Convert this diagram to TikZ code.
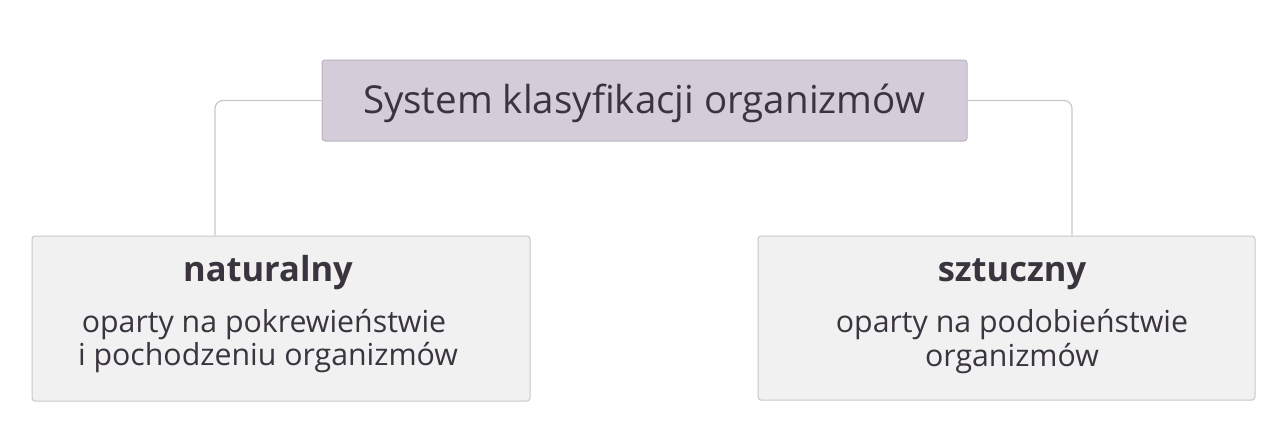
\documentclass[tikz,border=0pt]{standalone}
\usepackage{fontspec}
\setmainfont{Open Sans}
\definecolor{topfill}{RGB}{212,205,217}
\definecolor{topdraw}{RGB}{186,180,192}
\definecolor{boxfill}{RGB}{241,241,241}
\definecolor{boxdraw}{RGB}{200,200,200}
\definecolor{linec}{RGB}{200,200,200}
\definecolor{txt}{RGB}{58,52,62}
\begin{document}
\begin{tikzpicture}[x=1pt,y=-1pt,
  topbox/.style={draw=topdraw,fill=topfill,line width=1pt,rounded corners=3pt,inner sep=0pt},
  subbox/.style={draw=boxdraw,fill=boxfill,line width=1pt,rounded corners=3pt,inner sep=0pt},
  conn/.style={draw=linec,line width=1.2pt,rounded corners=8pt},
  headtxt/.style={anchor=base,inner sep=0pt,text=txt,font=\fontsize{34.5}{40}\selectfont\bfseries},
  bodytxt/.style={anchor=base,inner sep=0pt,text=txt,font=\fontsize{30.3}{35}\selectfont},
  titletxt/.style={anchor=base,inner sep=0pt,text=txt,font=\fontsize{38.5}{44}\selectfont}]
\useasboundingbox[fill=white] (0,0) rectangle (1280,447);
\node[topbox,minimum width=645pt,minimum height=81pt] (top) at (644.5,100.5) {};
\node[subbox,minimum width=498pt,minimum height=165pt] (nat) at (281,318.5) {};
\node[subbox,minimum width=497pt,minimum height=164pt] (szt) at (1006.5,318) {};
\coordinate (lc) at (215,100.5);
\coordinate (rc) at (1072,100.5);
\draw[conn] (top.west) -- (lc) -- (lc |- nat.north);
\draw[conn] (top.east) -- (rc) -- (rc |- szt.north);
\node[titletxt] (ttl) at (644,113) {System klasyfikacji organizmów};
\node[headtxt] (h1) at (268,281) {naturalny};
\node[bodytxt] (b1a) at (264,332) {oparty na pokrewieństwie};
\node[bodytxt] (b1b) at (268,365) {i pochodzeniu organizmów};
\node[headtxt] (h2) at (1012,281) {sztuczny};
\node[bodytxt] (b2a) at (1012,332) {oparty na podobieństwie};
\node[bodytxt] (b2b) at (1012,366) {organizmów};
\end{tikzpicture}
\end{document}
